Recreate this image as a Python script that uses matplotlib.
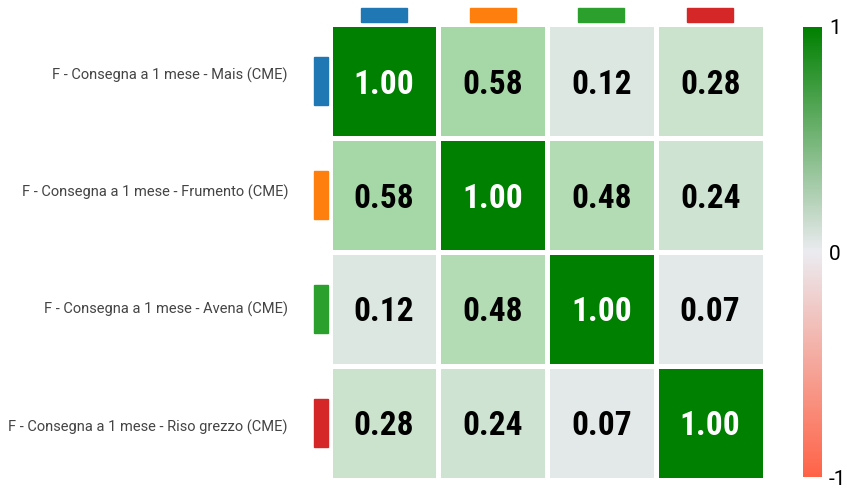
import numpy as np
import matplotlib
matplotlib.use("Agg")
import matplotlib.pyplot as plt
from matplotlib import font_manager
from matplotlib.colors import LinearSegmentedColormap, Normalize
from matplotlib.patches import Rectangle
from matplotlib.cm import ScalarMappable

# ---- data -------------------------------------------------------------------
labels = [
    "F - Consegna a 1 mese - Mais (CME)",
    "F - Consegna a 1 mese - Frumento (CME)",
    "F - Consegna a 1 mese - Avena (CME)",
    "F - Consegna a 1 mese - Riso grezzo (CME)",
]
series_colors = ["#1f77b4", "#ff7f0e", "#2ca02c", "#d62728"]
corr = np.array([
    [1.00, 0.58, 0.12, 0.28],
    [0.58, 1.00, 0.48, 0.24],
    [0.12, 0.48, 1.00, 0.07],
    [0.28, 0.24, 0.07, 1.00],
])
cbar_ticks = [-1, 0, 1]

# ---- fonts ------------------------------------------------------------------
names = {f.name for f in font_manager.fontManager.ttflist}
num_font = "DejaVu Sans"
for cand in ["Roboto Condensed", "Liberation Sans Narrow", "Roboto"]:
    if cand in names:
        num_font = cand
        break
label_font = "Roboto" if "Roboto" in names else "DejaVu Sans"

# ---- colour scales ------------------------------------------------------------
# cells are lighter than the bar at the same value, so two scales
cell_cmap = LinearSegmentedColormap.from_list(
    "cells",
    [(0.0, "#ff6347"), (0.5, "#ebebf0"), (0.79, "#a8d8a8"), (1.0, "#008000")],
)
bar_cmap = LinearSegmentedColormap.from_list(
    "bar", [(0.0, "#ff6347"), (0.5, "#ebebf0"), (1.0, "#008000")]
)
norm = Normalize(vmin=-1, vmax=1)

# ---- figure -----------------------------------------------------------------
W, H = 847, 490
fig = plt.figure(figsize=(W / 100, H / 100), dpi=100)

ax = fig.add_axes([329.5 / W, (H - 479.5) / H, 435 / W, 455 / H])
n = len(labels)
ax.pcolormesh(np.arange(n + 1), np.arange(n + 1), corr, cmap=cell_cmap,
              norm=norm, edgecolors="white", linewidth=3.6)
ax.set_xlim(0, n)
ax.set_ylim(n, 0)
ax.axis("off")

for i in range(n):
    for j in range(n):
        v = corr[i, j]
        ax.text(j + 0.5, i + 0.5, f"{v:.2f}", ha="center", va="center_baseline",
                fontsize=24, fontweight="bold", family=num_font,
                color="white" if v > 0.9 else "black")

# colour markers: px -> data units
px_x = n / 435
px_y = n / 455
for k, c in enumerate(series_colors):
    ax.add_patch(Rectangle((k + 0.5 - 23 * px_x, -16.5 * px_y), 46 * px_x,
                           14 * px_y, color=c, clip_on=False))
    ax.add_patch(Rectangle((-15.5 * px_x, k + 0.5 - 24 * px_y), 14 * px_x,
                           48 * px_y, color=c, clip_on=False))
    # the row labels are spread a little wider than the rows
    ly = (k + 0.5 - n / 2) * 1.031 + n / 2 - 1 * px_y
    ax.text(-41.5 * px_x, ly, labels[k], ha="right", va="center",
            fontsize=10.5, family=label_font, color="#444444")

# colour bar
cax = fig.add_axes([803 / W, (H - 477) / H, 19 / W, 450 / H])
cb = fig.colorbar(ScalarMappable(norm=norm, cmap=bar_cmap), cax=cax,
                  ticks=cbar_ticks)
cb.outline.set_visible(False)
cb.ax.tick_params(length=0, pad=5, labelsize=15)
cb.ax.set_yticklabels([str(t) for t in cbar_ticks], family=label_font)

fig.savefig("out.png", dpi=100)
